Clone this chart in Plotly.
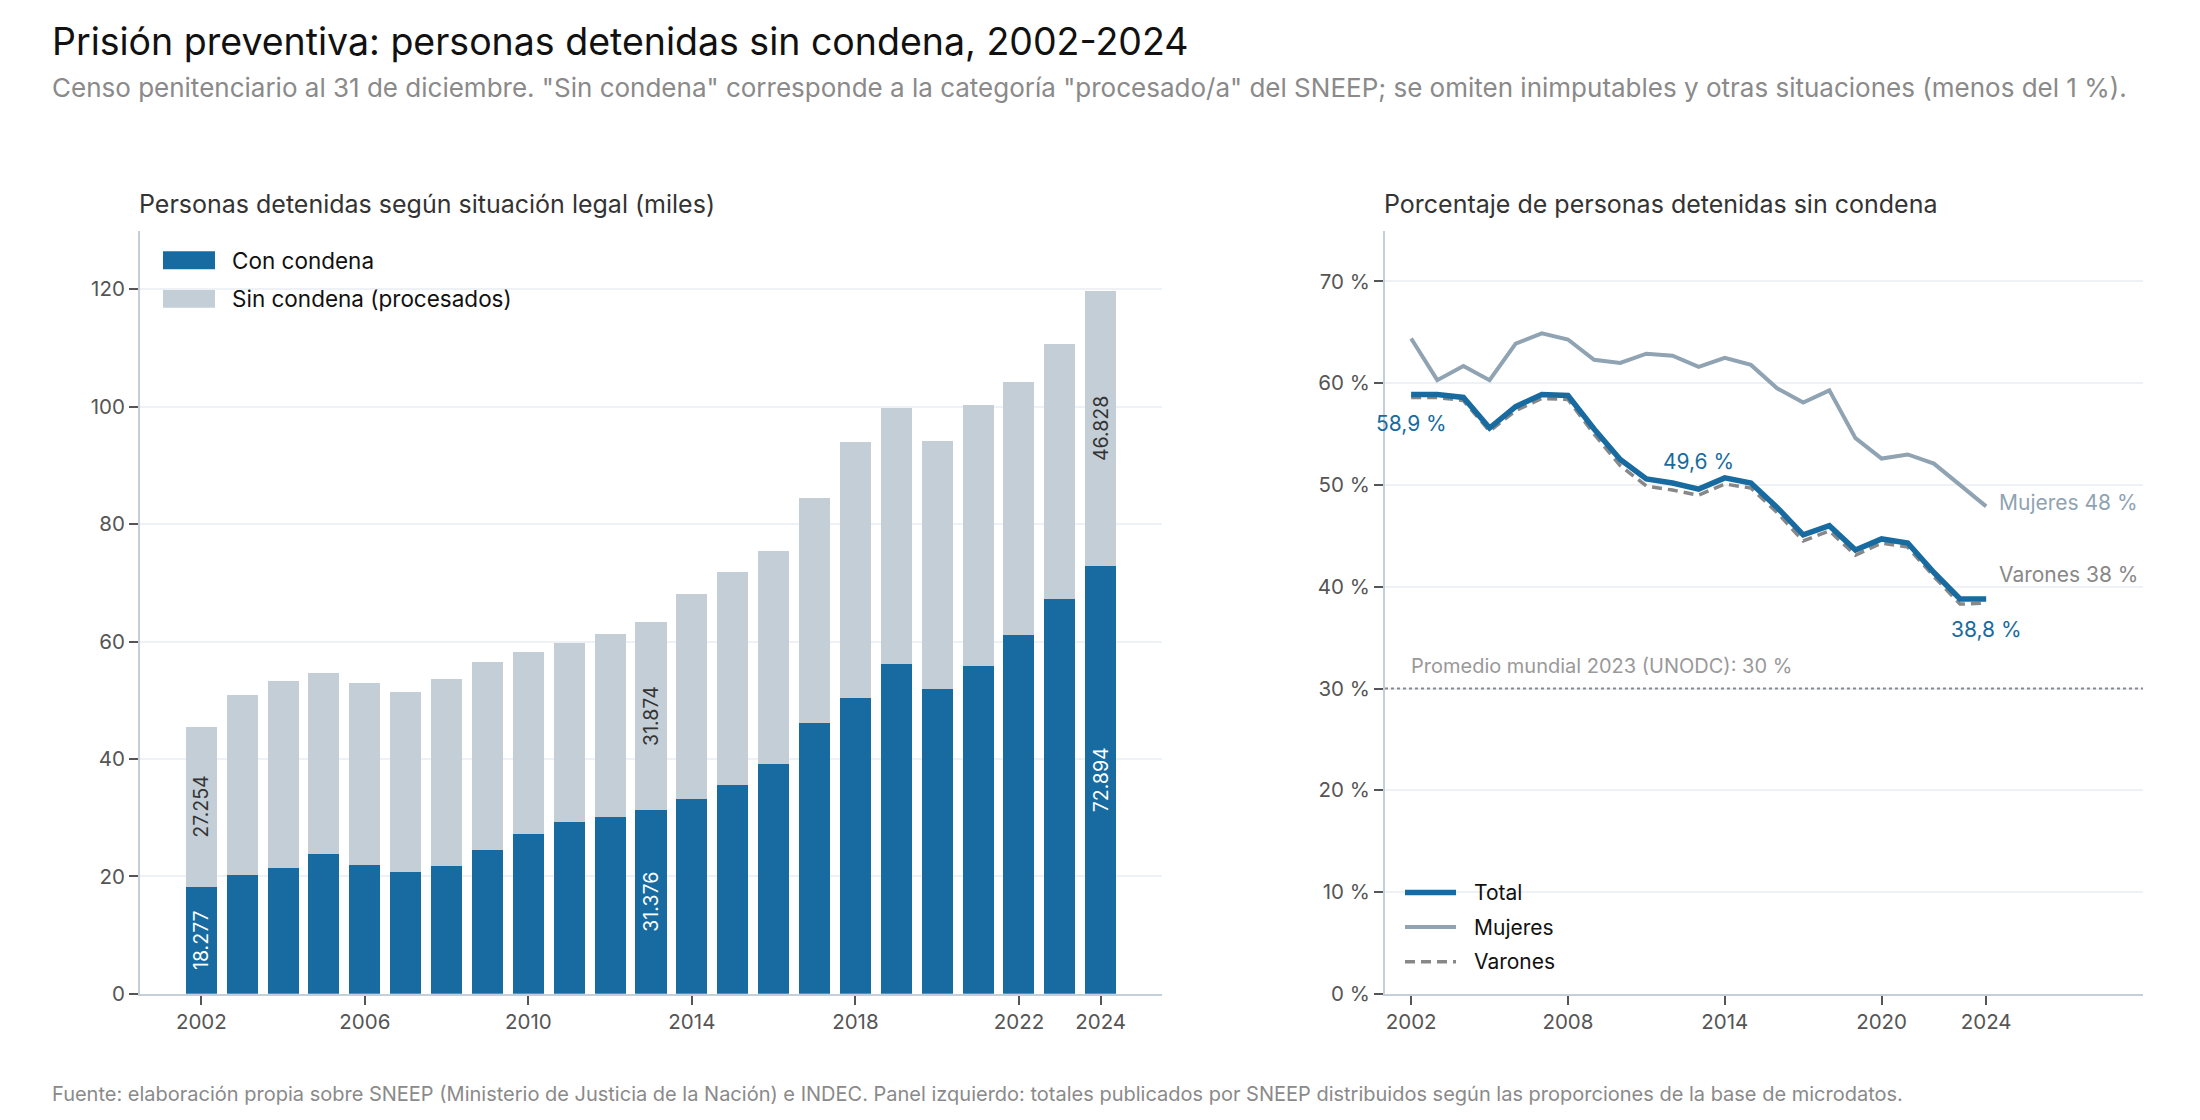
import plotly.graph_objects as go

# ---- datos ----
years = list(range(2002, 2025))

# miles de personas (panel izquierdo)
con_condena = [18.277, 20.3, 21.5, 23.9, 21.9, 20.7, 21.7, 24.5, 27.2, 29.2, 30.2, 31.376,
               33.1, 35.5, 39.2, 46.2, 50.4, 56.1, 51.9, 55.8, 61.2, 67.2, 72.894]
sin_condena = [27.254, 30.6, 31.8, 30.7, 31.0, 30.7, 31.9, 32.0, 31.1, 30.6, 31.1, 31.874,
               35.0, 36.3, 36.3, 38.3, 43.6, 43.7, 42.2, 44.5, 43.0, 43.4, 46.828]
label_years = [2002, 2013, 2024]

# porcentaje sin condena (panel derecho)
pct_total = [58.9, 58.9, 58.6, 55.6, 57.7, 58.9, 58.8, 55.5, 52.5, 50.6, 50.2, 49.6,
             50.7, 50.2, 47.8, 45.1, 46.0, 43.6, 44.7, 44.3, 41.4, 38.8, 38.8]
pct_mujeres = [64.4, 60.3, 61.7, 60.3, 63.9, 64.9, 64.3, 62.3, 62.0, 62.9, 62.7, 61.6,
               62.5, 61.8, 59.5, 58.1, 59.3, 54.6, 52.6, 53.0, 52.1, 50.0, 47.9]
pct_varones = [58.6, 58.6, 58.3, 55.3, 57.3, 58.5, 58.4, 55.0, 51.9, 49.9, 49.5, 49.0,
               50.1, 49.7, 47.3, 44.5, 45.5, 43.1, 44.3, 43.9, 41.0, 38.3, 38.4]
promedio_mundial = 30

left_ticks = [2002, 2006, 2010, 2014, 2018, 2022, 2024]
right_ticks = [2002, 2008, 2014, 2020, 2024]
pct_ticks = [0, 10, 20, 30, 40, 50, 60, 70]

BLUE = "#176ba0"
LIGHT = "#c4ced7"
MUJ = "#8fa3b3"
VAR = "#888888"
FONT = "Inter"

W, H = 2200, 1120


def px(x):
    return x / W


def py(y):
    return 1 - y / H


def fmt(v):
    return f"{v:.3f}"


def pct_txt(v):
    return f"{v:.1f}".replace(".", ",") + " %"


fig = go.Figure()

fig.add_trace(go.Bar(
    x=years, y=con_condena, name="Con condena", marker_color=BLUE, marker_line_width=0,
    text=[fmt(v) if y in label_years else "" for y, v in zip(years, con_condena)],
    textposition="inside", insidetextanchor="middle", textangle=-90,
    textfont=dict(color="white", size=19.5, family=FONT), showlegend=False,
    xaxis="x", yaxis="y"))
fig.add_trace(go.Bar(
    x=years, y=sin_condena, name="Sin condena (procesados)", marker_color=LIGHT, marker_line_width=0,
    text=[fmt(v) if y in label_years else "" for y, v in zip(years, sin_condena)],
    textposition="inside", insidetextanchor="middle", textangle=-90,
    textfont=dict(color="#333333", size=19.5, family=FONT), showlegend=False,
    xaxis="x", yaxis="y"))

fig.add_trace(go.Scatter(x=years, y=pct_varones, mode="lines", name="Varones",
                         line=dict(color=VAR, width=3.5, dash="10px,6px"),
                         showlegend=False, xaxis="x2", yaxis="y2"))
fig.add_trace(go.Scatter(x=years, y=pct_mujeres, mode="lines", name="Mujeres",
                         line=dict(color=MUJ, width=4),
                         showlegend=False, xaxis="x2", yaxis="y2"))
fig.add_trace(go.Scatter(x=years, y=pct_total, mode="lines", name="Total",
                         line=dict(color=BLUE, width=5.5),
                         showlegend=False, xaxis="x2", yaxis="y2"))

axis_common = dict(showline=True, linecolor="#c5cfd9", linewidth=2, ticks="outside",
                   ticklen=9, tickwidth=2, tickcolor="#555555",
                   tickfont=dict(size=20.5, color="#555555", family=FONT), zeroline=False)

fig.update_layout(
    width=W, height=H,
    margin=dict(l=0, r=0, t=0, b=0),
    paper_bgcolor="white", plot_bgcolor="white",
    font=dict(family=FONT, color="#333333"),
    barmode="stack", bargap=0.24,
    xaxis=dict(domain=[px(132), px(1154)], range=[2000.5, 2025.5], tickvals=left_ticks,
               showgrid=False, anchor="y", **axis_common),
    yaxis=dict(domain=[py(996.5), py(225)], range=[0, 130], tickvals=[0, 20, 40, 60, 80, 100, 120],
               showgrid=True, gridcolor="#eef2f6", gridwidth=2, anchor="x", **axis_common),
    xaxis2=dict(domain=[px(1377), px(2135)], range=[2001, 2030], tickvals=right_ticks,
                showgrid=False, anchor="y2", **axis_common),
    yaxis2=dict(domain=[py(996.5), py(225)], range=[0, 75], tickvals=pct_ticks,
                ticktext=[f"{t} %" for t in pct_ticks],
                showgrid=True, gridcolor="#eef2f6", gridwidth=2, anchor="x2", **axis_common),
)

# línea de referencia
fig.add_shape(type="line", xref="x2 domain", yref="y2", x0=0, x1=1,
              y0=promedio_mundial, y1=promedio_mundial,
              line=dict(color="#888888", width=2, dash="dot"))

ann = []


def txt(x, y, s, size, color, xanchor="left", xref="paper", yref="paper"):
    ann.append(dict(x=x, y=y, xref=xref, yref=yref, text=s, showarrow=False,
                    xanchor=xanchor, yanchor="middle",
                    font=dict(size=size, color=color, family=FONT)))


# títulos
txt(px(42), py(34), "Prisión preventiva: personas detenidas sin condena, 2002-2024", 37.5, "#111111")
txt(px(42), py(80), 'Censo penitenciario al 31 de diciembre. "Sin condena" corresponde a la categoría '
    '"procesado/a" del SNEEP; se omiten inimputables y otras situaciones (menos del 1 %).', 26, "#8a8a8a")
txt(px(129), py(198), "Personas detenidas según situación legal (miles)", 25, "#333333")
txt(px(1374), py(198), "Porcentaje de personas detenidas sin condena", 25, "#333333")
txt(px(42), py(1098), "Fuente: elaboración propia sobre SNEEP (Ministerio de Justicia de la Nación) e INDEC. "
    "Panel izquierdo: totales publicados por SNEEP distribuidos según las proporciones de la base de microdatos.",
    20, "#8a8a8a")

# leyenda izquierda
for i, (name, col) in enumerate([("Con condena", BLUE), ("Sin condena (procesados)", LIGHT)]):
    yc = 255 + i * 39
    fig.add_shape(type="rect", xref="paper", yref="paper", x0=px(155), x1=px(207),
                  y0=py(yc - 9), y1=py(yc + 9), fillcolor=col, line_width=0)
    txt(px(222), py(yc), name, 22.5, "#111111")

# leyenda derecha
for i, (name, col, w, dash) in enumerate([("Total", BLUE, 5.5, "solid"),
                                          ("Mujeres", MUJ, 4, "solid"),
                                          ("Varones", VAR, 3.5, "10px,6px")]):
    yc = 894 + i * 35
    fig.add_shape(type="line", xref="paper", yref="paper", x0=px(1397), x1=px(1448),
                  y0=py(yc), y1=py(yc), line=dict(color=col, width=w, dash=dash))
    txt(px(1464), py(yc), name, 21, "#111111")

# etiquetas del panel derecho
i0, i13, i24 = years.index(2002), years.index(2013), years.index(2024)
txt(2002, pct_total[i0] - 2.9, pct_txt(pct_total[i0]), 21, BLUE, "center", "x2", "y2")
txt(2013, pct_total[i13] + 2.7, pct_txt(pct_total[i13]), 21, BLUE, "center", "x2", "y2")
txt(2024, pct_total[i24] - 3.0, pct_txt(pct_total[i24]), 21, BLUE, "center", "x2", "y2")
txt(2024.4, pct_mujeres[i24] + 0.4, f"Mujeres {round(pct_mujeres[i24])} %", 21, MUJ, "left", "x2", "y2")
txt(2024.4, pct_varones[i24] + 2.8, f"Varones {round(pct_varones[i24])} %", 21, VAR, "left", "x2", "y2")
txt(2001.9, promedio_mundial + 2.2, f"Promedio mundial 2023 (UNODC): {promedio_mundial} %", 20, "#999999",
    "left", "x2", "y2")

fig.update_layout(annotations=ann)

fig.write_html("out.html")
